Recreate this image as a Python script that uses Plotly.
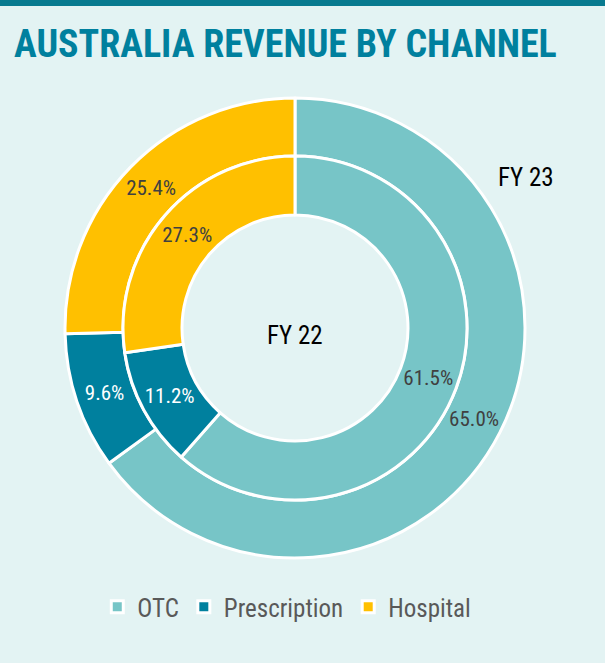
import plotly.graph_objects as go

channels = ["OTC", "Prescription", "Hospital"]
fy23 = [65.0, 9.6, 25.4]
fy22 = [61.5, 11.2, 27.3]
colors = ["#77c5c7", "#00809e", "#ffc000"]
text_colors = ["#404040", "#ffffff", "#404040"]

W, H = 605, 663
cx, cy = 295, 328
r_out, r_mid, r_in = 230, 172, 113
FONT = "Roboto Condensed, Liberation Sans, Arial, sans-serif"

def dom(r):
    return dict(x=[(cx - r) / W, (cx + r) / W], y=[(H - cy - r) / H, (H - cy + r) / H])

fig = go.Figure()
fig.add_trace(go.Pie(
    labels=channels, values=fy23, name="FY 23", sort=False, direction="clockwise", rotation=0,
    hole=r_mid / r_out, domain=dom(r_out),
    marker=dict(colors=colors, line=dict(color="white", width=3)),
    texttemplate="%{value:.1f}%", textposition="inside", insidetextorientation="horizontal",
    textfont=dict(family=FONT, size=21, color=text_colors),
    hoverinfo="label+value", showlegend=True,
))
fig.add_trace(go.Pie(
    labels=channels, values=fy22, name="FY 22", sort=False, direction="clockwise", rotation=0,
    hole=r_in / r_mid, domain=dom(r_mid),
    marker=dict(colors=colors, line=dict(color="white", width=3)),
    texttemplate="%{value:.1f}%", textposition="inside", insidetextorientation="horizontal",
    textfont=dict(family=FONT, size=21, color=text_colors),
    hoverinfo="label+value", showlegend=False,
))

fig.update_layout(
    width=W, height=H,
    margin=dict(l=0, r=0, t=0, b=0, autoexpand=False),
    paper_bgcolor="#e3f3f3", plot_bgcolor="#e3f3f3",
    font=dict(family=FONT, color="#404040"),
    title=dict(text="<b>AUSTRALIA REVENUE BY CHANNEL</b>", x=14 / W, xanchor="left",
               y=1 - 44 / H, yanchor="middle", yref="container",
               font=dict(family=FONT, size=38, color="#00809e")),
    legend=dict(orientation="h", x=0.474, xanchor="center", y=1 - 607 / H, yanchor="middle",
                font=dict(family=FONT, size=25, color="#595959"), bgcolor="rgba(0,0,0,0)",
                itemwidth=30, traceorder="normal"),
    annotations=[
        dict(text="FY 23", x=526 / W, y=1 - 178 / H, xref="paper", yref="paper", showarrow=False,
             xanchor="center", yanchor="middle",
             font=dict(family=FONT, size=25, color="#000000")),
        dict(text="FY 22", x=295 / W, y=1 - 335 / H, xref="paper", yref="paper", showarrow=False,
             xanchor="center", yanchor="middle",
             font=dict(family=FONT, size=25, color="#000000")),
    ],
    shapes=[
        dict(type="rect", xref="paper", yref="paper", x0=0, x1=1, y0=1 - 6 / H, y1=1,
             fillcolor="#077a8f", line=dict(width=0), layer="above"),
    ],
)

fig.write_html("out.html", config={"displayModeBar": False},
               post_script="document.body.style.margin='0';")
